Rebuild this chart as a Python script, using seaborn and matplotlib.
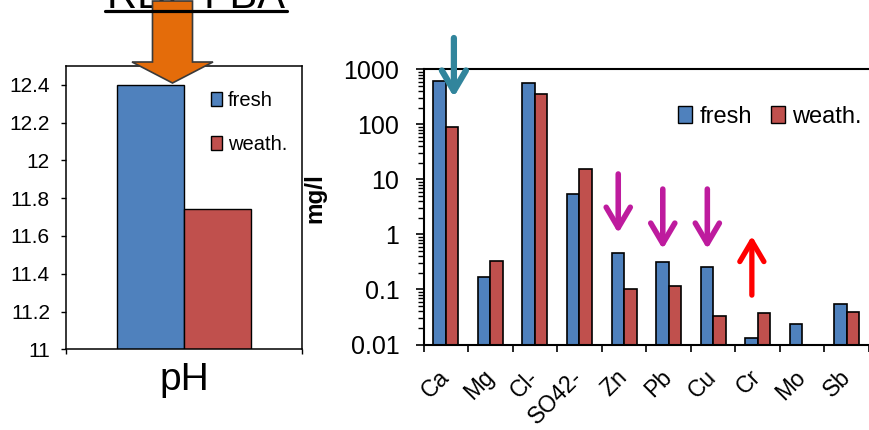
import numpy as np
import pandas as pd
import matplotlib
matplotlib.use('Agg')
import matplotlib.pyplot as plt
import matplotlib.patches as mpatches
from matplotlib.lines import Line2D
from matplotlib.transforms import IdentityTransform
from matplotlib.ticker import FixedLocator, FuncFormatter, LogLocator, NullFormatter
import seaborn as sns

# ---------------- data ----------------
series = ['fresh', 'weath.']
ph_label = 'pH'
ph_fresh = 12.4
ph_weath = 11.745
ph_ticks = [11, 11.2, 11.4, 11.6, 11.8, 12, 12.2, 12.4]

elements = ['Ca', 'Mg', 'Cl-', 'SO42-', 'Zn', 'Pb', 'Cu', 'Cr', 'Mo', 'Sb']
fresh_vals = [625, 0.171, 562, 5.4, 0.47, 0.31, 0.257, 0.013, 0.0233, 0.055]
weath_vals = [91, 0.334, 355, 15.5, 0.10, 0.116, 0.0325, 0.037, np.nan, 0.0395]
log_ticks = [0.01, 0.1, 1, 10, 100, 1000]

title_text = 'RDF FBA'
ylabel_right = 'mg/l'

# annotation arrows: (element, offset, tail value, tip value, colour, lw)
arrow_specs = [
    ('Ca', 0.18, 3740, 316, '#31859C', 4.5),
    ('Zn', -0.13, 12.6, 1.06, '#BE1B9E', 4.0),
    ('Pb', -0.13, 6.7, 0.545, '#BE1B9E', 4.0),
    ('Cu', -0.13, 6.7, 0.545, '#BE1B9E', 4.0),
    ('Cr', -0.13, 0.079, 0.94, '#FF0000', 3.8),
]

BLUE = '#4F81BD'
RED = '#C0504D'

# ---------------- figure ----------------
sns.set_style('ticks')
plt.rcParams['font.family'] = ['Liberation Sans', 'DejaVu Sans']
for k in ['text.color', 'axes.labelcolor', 'xtick.color', 'ytick.color',
          'axes.edgecolor']:
    plt.rcParams[k] = 'black'

W, H = 869, 430
fig = plt.figure(figsize=(W / 100, H / 100), dpi=100)


def box(x0, y0, x1, y1):
    return [x0 / W, 1 - y1 / H, (x1 - x0) / W, (y1 - y0) / H]


ax1 = fig.add_axes(box(66, 66, 302, 349.3))
ax2 = fig.add_axes(box(423.6, 69.5, 869, 344.5))

# ---------------- left: pH ----------------
df_ph = pd.DataFrame({'param': [ph_label] * 2, 'sample': series,
                      'value': [ph_fresh, ph_weath]})
sns.barplot(data=df_ph, x='param', y='value', hue='sample', hue_order=series,
            palette=[BLUE, RED], saturation=1, width=0.57, edgecolor='black',
            linewidth=1.0, errorbar=None, legend=False, ax=ax1)
ax1.set_ylim(11, 12.5)
ax1.set_xlim(-0.5, 0.5)
ax1.set_yticks(ph_ticks)
ax1.set_yticklabels([f'{t:g}' for t in ph_ticks])
ax1.set_xlabel('')
ax1.set_ylabel('')
ax1.tick_params(axis='y', direction='out', length=3.6, width=1, pad=8,
                labelsize=15, left=True, colors='black')
ax1.tick_params(axis='x', which='major', length=0, pad=9, labelsize=28,
                labelcolor='black')
ax1.set_xticks([-0.5, 0.5], minor=True)
ax1.tick_params(axis='x', which='minor', direction='out', length=3.6, width=1,
                bottom=True)
for s in ax1.spines.values():
    s.set_visible(True)
    s.set_linewidth(1.1)
    s.set_color('black')

h1 = [mpatches.Patch(facecolor=BLUE, edgecolor='black', linewidth=1, label=series[0]),
      mpatches.Patch(facecolor=RED, edgecolor='black', linewidth=1, label=series[1])]
fig.legend(handles=h1, loc='center', bbox_to_anchor=(249 / W, 1 - 122.5 / H),
           frameon=False, fontsize=14.5, handlelength=0.55, handleheight=0.7,
           handletextpad=0.3, labelspacing=1.25, borderpad=0)

# ---------------- right: concentrations ----------------
df = pd.DataFrame({'element': elements * 2,
                   'sample': [series[0]] * len(elements) + [series[1]] * len(elements),
                   'value': fresh_vals + weath_vals})
sns.barplot(data=df, x='element', y='value', hue='sample', hue_order=series,
            order=elements, palette=[BLUE, RED], saturation=1, width=0.56,
            edgecolor='black', linewidth=1.2, errorbar=None, legend=False, ax=ax2)
ax2.set_yscale('log')
ax2.set_ylim(0.01, 1000)
ax2.set_xlim(-0.5, 9.42)
ax2.yaxis.set_major_locator(FixedLocator(log_ticks))
ax2.yaxis.set_major_formatter(FuncFormatter(lambda v, p: f'{v:g}'))
ax2.yaxis.set_minor_locator(LogLocator(base=10, subs=np.arange(2, 10)))
ax2.yaxis.set_minor_formatter(NullFormatter())
ax2.tick_params(axis='y', which='major', direction='out', length=5.5, width=1.2,
                pad=12, labelsize=18, left=True)
ax2.tick_params(axis='y', which='minor', direction='out', length=4, width=1,
                left=True)
ax2.set_xticks(np.arange(-0.5, len(elements), 1), minor=True)
ax2.tick_params(axis='x', which='minor', direction='out', length=5, width=1.2,
                bottom=True)
ax2.tick_params(axis='x', which='major', length=0, pad=21, labelsize=16.5,
                labelrotation=45)
plt.setp(ax2.get_xticklabels(), ha='right', va='center', rotation_mode='anchor')
ax2.set_xlabel('')
ax2.set_ylabel(ylabel_right, fontsize=17.5, fontweight='bold')
ax2.yaxis.set_label_coords((326 - 423.6) / (869 - 423.6), 0.533)
ax2.spines['right'].set_visible(False)
for k in ['left', 'top', 'bottom']:
    ax2.spines[k].set_linewidth(1.5)
    ax2.spines[k].set_color('black')

h2 = [mpatches.Patch(facecolor=BLUE, edgecolor='black', linewidth=1, label=series[0]),
      mpatches.Patch(facecolor=RED, edgecolor='black', linewidth=1, label=series[1])]
fig.legend(handles=h2, loc='center', bbox_to_anchor=(770 / W, 1 - 117 / H),
           ncol=2, frameon=False, fontsize=17, handlelength=0.6, handleheight=0.7,
           handletextpad=0.3, columnspacing=0.8, borderpad=0)

for el, off, tail, tip, col, lw in arrow_specs:
    xi = elements.index(el) + off
    ax2.annotate('', xy=(xi, tip), xytext=(xi, tail), xycoords='data',
                 annotation_clip=False,
                 arrowprops=dict(arrowstyle='->,head_length=1.05,head_width=0.62',
                                 mutation_scale=14, lw=lw, color=col,
                                 shrinkA=0, shrinkB=0, clip_on=False))

# ---------------- top decoration ----------------
fig.text(196 / W, 1 - 7.5 / H, title_text, ha='center', va='baseline',
         fontsize=30, color='black', zorder=1)
big = mpatches.FancyArrow(172.5, H - 1, 0, -82, width=40, head_width=81,
                          head_length=21, length_includes_head=True,
                          facecolor='#E46C0A', edgecolor='#3a3a3a', linewidth=1.2,
                          transform=IdentityTransform(), zorder=2)
fig.add_artist(big)
fig.add_artist(Line2D([105 / W, 287 / W], [1 - 11 / H] * 2, transform=fig.transFigure,
                      color='black', lw=2.3, zorder=3))

fig.savefig('out.png', dpi=100)
